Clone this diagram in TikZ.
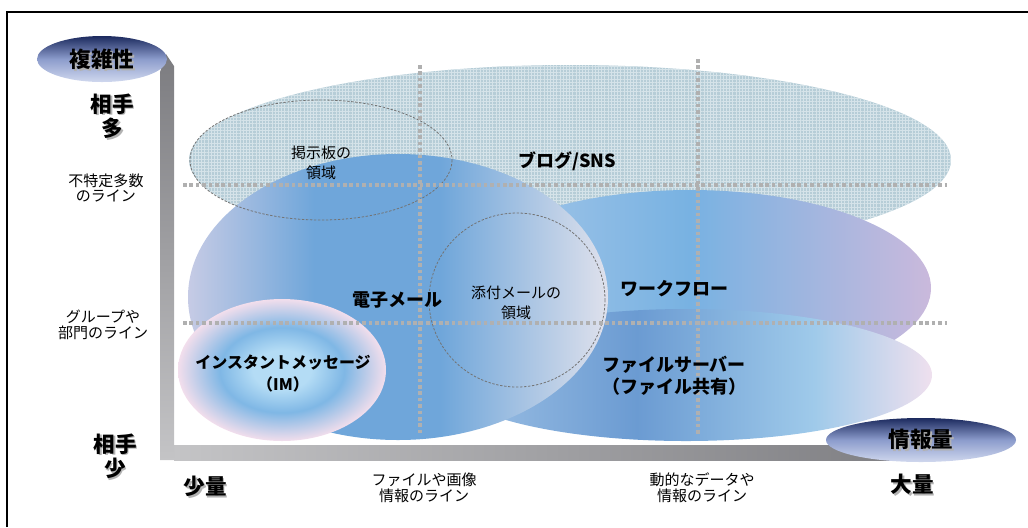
\documentclass[tikz,border=0pt]{standalone}
\usepackage{fontspec}
\setmainfont{Noto Sans CJK JP}
\usetikzlibrary{patterns.meta}

\definecolor{blogc}{HTML}{B6CDD7}
\definecolor{bloggrid}{HTML}{D5E3E9}
\definecolor{emA}{HTML}{C6CBE5}
\definecolor{emB}{HTML}{6FA6DA}
\definecolor{emC}{HTML}{DFE1EC}
\definecolor{wfA}{HTML}{ADCAE9}
\definecolor{wfB}{HTML}{78B2E2}
\definecolor{wfC}{HTML}{CAB9DC}
\definecolor{fsA}{HTML}{A2C4E6}
\definecolor{fsB}{HTML}{6B9BD2}
\definecolor{fsC}{HTML}{9FCAEA}
\definecolor{fsD}{HTML}{EFE0EE}
\definecolor{imA}{HTML}{B4DCF5}
\definecolor{imB}{HTML}{7FB7E5}
\definecolor{imC}{HTML}{F2DEEC}
\definecolor{navy}{HTML}{1C2A5E}
\definecolor{midblue}{HTML}{8C9CCC}
\definecolor{pale}{HTML}{D0D8EE}
\definecolor{gridc}{HTML}{B0B0B0}
\definecolor{bardark}{HTML}{7C7C80}
\definecolor{barlight}{HTML}{C4C4C6}

\pgfdeclarehorizontalshading{mailshade}{100bp}{color(0bp)=(emA); color(25bp)=(emA); color(40bp)=(emB); color(55bp)=(emB); color(75bp)=(emC); color(100bp)=(emC)}
\pgfdeclarehorizontalshading{flowshade}{100bp}{color(0bp)=(wfA); color(25bp)=(wfA); color(50bp)=(wfB); color(75bp)=(wfC); color(100bp)=(wfC)}
\pgfdeclarehorizontalshading{fileshade}{100bp}{color(0bp)=(fsA); color(25bp)=(fsA); color(45bp)=(fsB); color(63bp)=(fsC); color(75bp)=(fsD); color(100bp)=(fsD)}
\pgfdeclareradialshading{imshade}{\pgfpoint{0bp}{0bp}}{color(0bp)=(imA); color(7bp)=(imA); color(15bp)=(imB); color(25bp)=(imC); color(50bp)=(imC)}

\newcommand{\axisword}[1]{\leavevmode\rlap{\kern0.9pt\raisebox{-0.9pt}{\textcolor{black!30}{#1}}}#1}

\tikzset{
  axis/.style={inner sep=0pt, align=center, font=\bfseries\fontsize{10.8}{10.5}\selectfont},
  tag/.style={inner sep=0pt, align=center, font=\bfseries\fontsize{9}{11}\selectfont},
  imtag/.style={inner sep=0pt, align=center, font=\bfseries\fontsize{8}{11}\selectfont},
  thin/.style={inner sep=0pt, align=center, font=\fontsize{7.5}{10}\selectfont},
  note/.style={inner sep=0pt, align=center, font=\fontsize{7.5}{7.8}\selectfont},
  guide/.style={gridc, line width=1.8pt, dash pattern=on 1.8pt off 1.4pt},
  outline/.style={black!55, line width=0.4pt, dash pattern=on 1.2pt off 0.8pt},
  tagshade/.style={top color=navy, bottom color=pale, middle color=midblue}
}

\begin{document}
\begin{tikzpicture}[x=0.5pt,y=-0.5pt]
\useasboundingbox (0,0) rectangle (1028,527);
% frame
\draw [line width=0.8pt] (7,527) -- (7,12) -- (1028,12);
% areas
\fill [blogc] (570,160) ellipse [x radius=381, y radius=95];
\fill [pattern={Lines[angle=0, distance=1.6pt, line width=0.4pt]}, pattern color=bloggrid] (570,160) ellipse [x radius=381, y radius=95];
\fill [pattern={Lines[angle=90, distance=1.6pt, line width=0.4pt]}, pattern color=bloggrid] (570,160) ellipse [x radius=381, y radius=95];
\shade [shading=flowshade] (690,288) ellipse [x radius=241, y radius=98];
\shade [shading=fileshade] (686,375) ellipse [x radius=246, y radius=66];
\shade [shading=mailshade] (398,297) ellipse [x radius=210, y radius=143];
\shade [shading=imshade] (282,370) ellipse [x radius=104, y radius=71];
\draw [outline] (321,160) ellipse [x radius=131, y radius=60];
\draw [outline] (517,300) ellipse [x radius=88, y radius=87];
% guide lines
\draw [guide] (183,185) -- (947,185);
\draw [guide] (183,323) -- (947,323);
\draw [guide] (420,65) -- (420,435);
\draw [guide] (698,59) -- (698,435);
% axes
\shade [left color=barlight, right color=bardark] (174,445) rectangle (930,460);
\shade [top color=bardark, bottom color=barlight] (160,460) -- (160,72) -- (166,54) -- (174,66) -- (174,460) -- cycle;
\shade [tagshade] (102,59) ellipse [x radius=65, y radius=23];
\shade [tagshade] (921,440) ellipse [x radius=95, y radius=22];
% labels
\node [axis] (complexity) at (102,60) {\axisword{複雑性}};
\node [axis] (manypeers) at (112,117) {\axisword{相手}\\\axisword{多}};
\node [note] (openline) at (106,188) {不特定多数\\のライン};
\node [note] (groupline) at (103,325) {グループや\\部門のライン};
\node [axis] (fewpeers) at (115,457) {\axisword{相手}\\\axisword{少}};
\node [axis] (smallvol) at (205,487) {\axisword{少量}};
\node [note] (fileline) at (424,488) {ファイルや画像\\情報のライン};
\node [note] (dataline) at (702,488) {動的なデータや\\情報のライン};
\node [axis] (largevol) at (912,485) {\axisword{大量}};
\node [axis] (volume) at (921,440) {\axisword{情報量}};
\node [tag] (blog) at (567,161) {ブログ/SNS};
\node [thin] (board) at (321,163) {掲示板の\\領域};
\node [tag] (mail) at (397,300) {電子メール};
\node [thin] (attach) at (516,303) {添付メールの\\領域};
\node [tag] (flow) at (674,289) {ワークフロー};
\node [tag] (fileserver) at (674,376) {ファイルサーバー\\（ファイル共有）};
\node [imtag] (im) at (283,374) {インスタントメッセージ\\（IM）};
\end{tikzpicture}
\end{document}
